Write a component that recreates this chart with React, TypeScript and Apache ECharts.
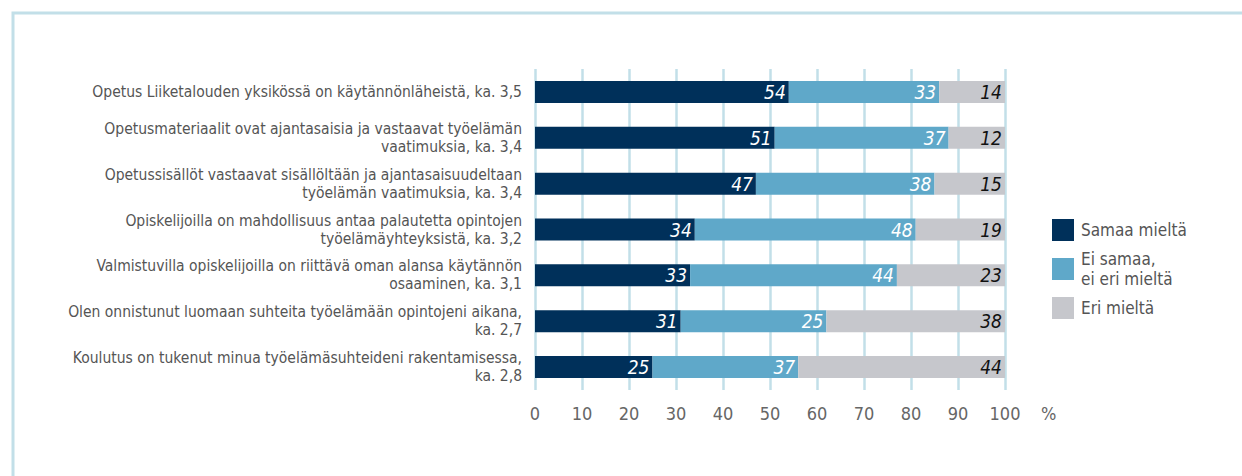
import React, { useEffect, useRef } from "react";
import * as echarts from "echarts";

const categories = [
  "Opetus Liiketalouden yksikössä on käytännönläheistä, ka. 3,5",
  "Opetusmateriaalit ovat ajantasaisia ja vastaavat työelämän\nvaatimuksia, ka. 3,4",
  "Opetussisällöt vastaavat sisällöltään ja ajantasaisuudeltaan\ntyöelämän vaatimuksia, ka. 3,4",
  "Opiskelijoilla on mahdollisuus antaa palautetta opintojen\ntyöelämäyhteyksistä, ka. 3,2",
  "Valmistuvilla opiskelijoilla on riittävä oman alansa käytännön\nosaaminen, ka. 3,1",
  "Olen onnistunut luomaan suhteita työelämään opintojeni aikana,\nka. 2,7",
  "Koulutus on tukenut minua työelämäsuhteideni rakentamisessa,\nka. 2,8",
];

const seriesNames = ["Samaa mieltä", "Ei samaa,\nei eri mieltä", "Eri mieltä"];

// Segment lengths as drawn in the picture (%)
const agreeWidths = [54, 51, 47, 34, 33, 31, 25];
const neutralWidths = [32, 37, 38, 47, 44, 31, 31];
const disagreeWidths = [14, 12, 15, 19, 23, 38, 44];

// Printed labels
const agreeLabels = [54, 51, 47, 34, 33, 31, 25];
const neutralLabels = [33, 37, 38, 48, 44, 25, 37];
const disagreeLabels = [14, 12, 15, 19, 23, 38, 44];

const xTicks = [0, 10, 20, 30, 40, 50, 60, 70, 80, 90, 100];

const colors = ["#00305a", "#5fa8c9", "#c6c7cc"];
const FONT = "'Liberation Sans Narrow', 'DejaVu Sans Condensed', 'Roboto', sans-serif";

export default function App() {
  const ref = useRef<HTMLDivElement>(null);
  useEffect(() => {
    if (!ref.current) return;
    const chart = echarts.init(ref.current, undefined, { renderer: "svg" });
    const widths = [agreeWidths, neutralWidths, disagreeWidths];
    const labels = [agreeLabels, neutralLabels, disagreeLabels];
    const labelColors = ["#ffffff", "#ffffff", "#111111"];
    chart.setOption({
      animation: false,
      textStyle: { fontFamily: FONT },
      graphic: [
        {
          type: "rect",
          shape: { x: 13, y: 13, width: 1300, height: 520 },
          style: { fill: "none", stroke: "#c2dfe8", lineWidth: 3 },
          silent: true,
        },
      ],
      legend: {
        orient: "vertical",
        left: 1052,
        top: 219,
        padding: 0,
        itemWidth: 22,
        itemHeight: 22,
        itemGap: 8,
        icon: "rect",
        data: seriesNames,
        selectedMode: false,
        textStyle: {
          fontFamily: FONT,
          fontSize: 17,
          color: "#555555",
          lineHeight: 20,
          padding: [0, 0, 0, 2],
        },
      },
      grid: { left: 535, right: 237, top: 69, bottom: 86, containLabel: false },
      xAxis: {
        type: "value",
        min: 0,
        max: 100,
        interval: 10,
        name: "%",
        nameLocation: "end",
        nameGap: 36,
        nameTextStyle: { fontFamily: FONT, fontSize: 18, color: "#666666", verticalAlign: "top", padding: [14, 0, 0, 0] },
        axisLine: { show: false },
        axisTick: { show: false },
        axisLabel: {
          fontFamily: FONT,
          fontSize: 18,
          color: "#666666",
          margin: 14,
          formatter: (v: number) => (xTicks.includes(v) ? String(v) : ""),
        },
        splitLine: { show: true, lineStyle: { color: "#c2dfe8", width: 2.5 } },
      },
      yAxis: {
        type: "category",
        inverse: true,
        data: categories,
        axisLine: { show: false },
        axisTick: { show: false },
        axisLabel: {
          fontFamily: FONT,
          fontSize: 15.5,
          color: "#555555",
          margin: 13,
          lineHeight: 18,
          align: "right",
        },
      },
      series: widths.map((w, si) => ({
        name: seriesNames[si],
        type: "bar",
        stack: "total",
        barWidth: 22,
        data: w,
        itemStyle: { color: colors[si] },
        label: {
          show: true,
          position: "insideRight",
          distance: 3,
          fontFamily: FONT,
          fontStyle: "italic",
          fontSize: 19,
          color: labelColors[si],
          formatter: (p: any) => String(labels[si][p.dataIndex]),
        },
      })),
    });
    return () => chart.dispose();
  }, []);
  return <div ref={ref} style={{ width: 1242, height: 476, position: "absolute", left: 0, top: 0 }} />;
}
